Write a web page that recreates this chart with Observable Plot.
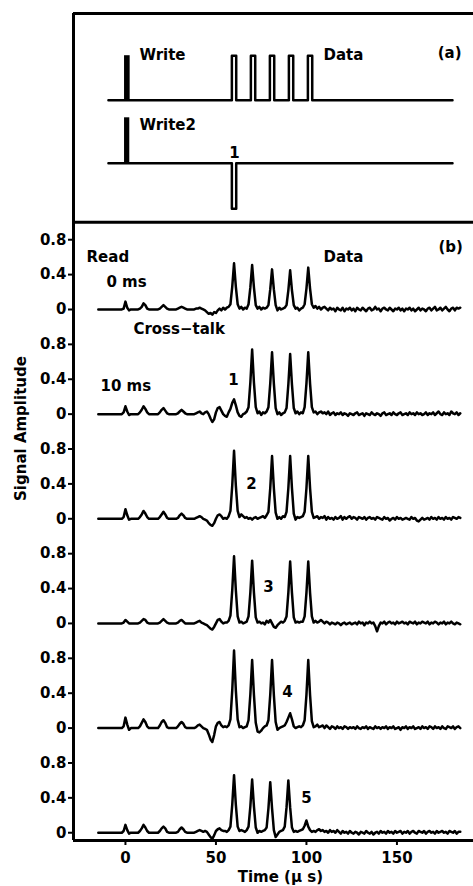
<!DOCTYPE html>
<html>
<head>
<meta charset="utf-8">
<script src="https://cdn.jsdelivr.net/npm/d3@7"></script>
<script src="https://cdn.jsdelivr.net/npm/@observablehq/plot@0.6"></script>
<style>
  html, body { margin: 0; padding: 0; background: #fff; }
  svg { display: block; }
  g[aria-label^="x-axis"] path, g[aria-label^="y-axis"] path,
  g[aria-label^="x-axis"] line, g[aria-label^="y-axis"] line { stroke-width: 2px; }
</style>
</head>
<body>
<div id="chart"></div>
<script>
// ---------------- data ----------------
// time grid (µs), 1 µs steps from -15 to 185
const tStart = -15, tEnd = 185;
const traceNames = ["0 ms", "10 ms", "2", "3", "4", "5"];
const traceOffset = 1.2;            // vertical stacking of the traces (signal units)

const trace0 = [
  0,0,0,0,0,0,0,0,0,0,
  0,0,0,0,0.01,0.09,0.02,-0.01,0,0,
  0,0,0,0.01,0.03,0.07,0.05,0.01,0,0,
  0,0,0,0,0.01,0.03,0.05,0.03,0.01,0,
  0,0,0,0,0.01,0.02,0.03,0.02,0.01,0,
  0,0,0,0,0.01,0.01,0.02,0.01,0,-0.01,
  -0.03,-0.05,-0.04,-0.06,-0.03,-0.04,-0.01,0.01,-0.01,0.02,
  0,0.02,0.03,0.06,0.26,0.53,0.26,0.06,0.01,0.03,
  0,0.02,0.01,0.06,0.25,0.51,0.25,0.05,0.01,0.03,
  0,0.02,0.01,0.02,0.05,0.23,0.46,0.23,0.05,-0.01,
  0.02,0,0.01,0.02,0.05,0.22,0.45,0.22,0.05,0.01,
  0.02,-0.01,0.01,0.02,0.06,0.24,0.48,0.24,0.06,0.02,
  0.04,0.01,0.03,0,0.02,0.03,0.01,-0.01,0.02,0,
  0.01,-0.02,0.02,0,-0.01,0.02,-0.02,0.01,0,0.02,
  -0.01,0.01,-0.02,0.02,0,-0.01,0.02,0,-0.02,0.01,
  0.02,-0.01,0,0.03,0,0.01,-0.02,0.01,0.02,0,
  -0.01,0.02,0,-0.02,0.01,0,0.02,-0.01,0.01,-0.02,
  0.01,0,0.02,-0.01,0.01,-0.02,0,0.02,-0.01,0.01,
  0,-0.02,0.01,0.02,-0.01,0.01,0.03,-0.01,0,0.02,
  -0.01,0.01,0.03,0,-0.02,0.01,0.02,-0.01,0.02,0.01,
  0.02
];
const trace1 = [
  0,0,0,0,0,0,0,0,0,0,
  0,0,0,0,0.02,0.09,0.03,-0.01,0,0,
  0,0,0,0.02,0.05,0.09,0.06,0.02,0,0,
  0,0,0,0,0.02,0.05,0.07,0.04,0.01,0,
  0,0,0,0,0.01,0.03,0.05,0.03,0.01,0,
  0,0,0,0,0.01,0.02,0.03,0.01,0,0.02,
  0.03,0,-0.05,-0.09,-0.06,0.02,0.07,0.08,0.04,0,
  -0.02,-0.03,0.02,0.06,0.13,0.17,0.1,0.02,-0.02,-0.03,
  0,0.01,0.03,0.08,0.36,0.74,0.36,0.08,0.01,0.03,
  -0.01,0.02,0.01,0.03,0.08,0.35,0.71,0.35,0.07,0,
  0.02,-0.01,0.01,0.02,0.07,0.34,0.69,0.34,0.07,0.01,
  0.03,0,0.02,0.01,0.08,0.35,0.71,0.35,0.08,0.02,
  0.03,0,0.02,0.03,0.01,0.02,0,0.03,-0.01,0.01,
  0.02,-0.01,0.01,0,0.02,-0.01,0.01,0,-0.02,0.01,
  0,-0.01,0.01,0.02,-0.01,0,0.01,-0.02,0.01,0,
  -0.01,0.02,0,-0.01,0.01,0,-0.02,0.01,0.02,-0.01,
  0,0.01,-0.01,0.02,0,-0.01,0.01,0.02,-0.01,0,
  0.01,-0.01,0.02,0,0.01,-0.01,0.02,0,0.01,-0.01,
  0,0.02,-0.01,0.01,0,0.02,-0.01,0.01,0.03,0,
  -0.01,0.02,0,0.01,-0.01,0.03,0.01,0,0.02,-0.01,
  0.01
];
const trace2 = [
  0,0,0,0,0,0,0,0,0,0,
  0,0,0,0,0.02,0.11,0.04,-0.01,0,0,
  0,0,0,0.02,0.05,0.09,0.06,0.02,0,0,
  0,0,0,0,0.02,0.05,0.08,0.05,0.01,0,
  0,0,0,0,0.01,0.04,0.06,0.04,0.01,0,
  0,0,0,0,0.01,0.02,0.03,0.02,0,-0.01,
  -0.02,-0.05,-0.07,-0.08,-0.05,0,0.04,0.05,0.03,0,
  0.01,0,0.03,0.09,0.38,0.78,0.38,0.09,0.02,0.05,
  0.03,0.01,0.02,0,0.01,-0.01,0.01,0.02,0,0.01,
  0.02,0.03,0.01,0.04,0.08,0.35,0.72,0.35,0.07,0,
  0.02,0,0.03,0.02,0.08,0.35,0.72,0.35,0.06,-0.01,
  0.02,0.01,0.02,0.03,0.08,0.35,0.72,0.35,0.08,0.01,
  0.02,0.03,0,0.02,0.01,0.03,-0.01,0.02,0,0.01,
  -0.01,0.02,0,0.01,0.03,-0.01,0.02,0,0.02,0.03,
  0,0.02,0.01,-0.01,0.02,0.01,0,0.02,-0.01,0.01,
  0.02,0,0.01,-0.01,0.02,0.01,0,-0.01,0.02,0,
  0.01,-0.02,0,0.01,-0.01,0.02,0,0.01,-0.01,0,
  0.01,0,-0.01,0.02,0,0.01,-0.02,-0.03,-0.01,0.01,
  -0.01,0,0.01,-0.01,0.02,0,0.01,-0.01,0.02,0,
  0.01,-0.01,0.02,0,0.01,-0.01,0.02,0.01,0,0.02,
  0.01
];
const trace3 = [
  0,0,0,0,0,0,0,0,0,0,
  0,0,0,0,0.01,0.04,0.02,0,0,0,
  0,0,0,0.01,0.03,0.05,0.04,0.01,0,0,
  0,0,0,0,0.01,0.03,0.05,0.03,0.01,0,
  0,0,0,0,0.01,0.03,0.04,0.02,0,0,
  0,0,0,0,0.01,0.02,0.03,0.01,0,-0.01,
  -0.02,-0.04,-0.06,-0.07,-0.04,0,0.04,0.05,0.02,0,
  0.01,0.01,0.03,0.09,0.38,0.77,0.38,0.08,0.01,0.02,
  0,0.01,0.02,0.08,0.35,0.72,0.35,0.07,0.01,0.02,
  0,0.01,-0.01,0.03,0.01,0.04,0,-0.04,-0.05,-0.02,
  0,0.02,0.01,0.03,0.08,0.35,0.71,0.35,0.07,0.01,
  0.02,0.01,0.02,0.02,0.08,0.35,0.71,0.35,0.08,0.01,
  0.03,0.01,0.02,0.04,0.02,0,0.02,0.01,-0.01,0.01,
  0,-0.01,0.01,0,-0.02,0,0.01,-0.01,0,0.01,
  -0.01,0,0.01,-0.01,0.02,0,0.01,-0.02,0.01,0,
  0.02,0,0.01,-0.03,-0.09,-0.03,0.01,0,0.02,-0.01,
  0.01,0.02,0,0.01,-0.01,0.02,0,0.01,0.02,0,
  0.01,-0.01,0.02,0.01,0,0.02,-0.01,0.01,0,0.02,
  0.01,0,0.02,-0.01,0.01,0,0.02,0.01,-0.01,0.01,
  0,0.02,-0.01,0.01,0,0.02,0,-0.01,0.01,0,
  -0.01
];
const trace4 = [
  0,0,0,0,0,0,0,0,0,0,
  0,0,0,0,0.02,0.12,0.04,-0.02,0,0,
  0,0,0,0.02,0.06,0.1,0.07,0.02,0,0,
  0,0,0,0,0.03,0.07,0.09,0.06,0.01,0,
  0,0,0,0,0.02,0.05,0.07,0.05,0.01,0,
  0,0,0,0,0.01,0.03,0.04,0.02,0,-0.01,
  -0.02,-0.07,-0.13,-0.16,-0.08,0.02,0.06,0.07,0.03,0.01,
  0.02,0.01,0.03,0.1,0.43,0.89,0.43,0.1,0.01,0.02,
  0,0.01,0.02,0.09,0.38,0.78,0.38,0.06,-0.04,-0.05,
  -0.03,0,0.02,0.03,0.09,0.38,0.78,0.38,0.07,-0.02,
  0,0.01,0.02,0.03,0.07,0.12,0.17,0.1,0.02,0,
  0.01,0.02,0.01,0.03,0.09,0.38,0.78,0.38,0.08,0.01,
  0.02,0.04,0.01,0.02,0.03,0,0.03,0.01,-0.01,0.02,
  0.01,-0.01,0.02,0,0.01,-0.01,0.02,0.01,-0.01,0.01,
  0,0.01,-0.01,0.02,0,-0.01,0.01,0,0.02,-0.01,
  0.01,0,-0.01,0.02,0,0.01,-0.01,0.01,0,0.02,
  -0.01,0.01,0,0.02,-0.01,0,0.01,-0.02,0.01,0,
  0.02,-0.01,0.01,0,0.02,-0.01,0,0.01,-0.01,0.02,
  0,0.01,-0.01,0.02,0.01,-0.01,0.02,0,0.01,-0.01,
  0.02,0,-0.01,0.02,0.01,0,0.02,-0.01,0.01,0.02,
  0
];
const trace5 = [
  0,0,0,0,0,0,0,0,0,0,
  0,0,0,0,0.02,0.09,0.03,-0.01,0,0,
  0,0,0,0.02,0.05,0.09,0.06,0.02,0,0,
  0,0,0,0,0.02,0.05,0.07,0.05,0.01,0,
  0,0,0,0,0.01,0.04,0.06,0.04,0.01,0,
  0,0,0,0,0.01,0.02,0.03,0.02,0.01,0.02,
  0.01,-0.02,-0.05,-0.07,-0.03,0.02,0.04,0.05,0.03,0.02,
  0.02,0.01,0.03,0.07,0.32,0.66,0.32,0.07,0.02,0.03,
  0.02,0.01,0.03,0.07,0.3,0.61,0.3,0.06,0,0.02,
  0.01,0.02,0.03,0.06,0.28,0.58,0.28,0.03,-0.05,-0.02,
  0.01,0.02,0.03,0.07,0.29,0.6,0.29,0.06,0.01,0.02,
  0.01,0.02,0.03,0.04,0.08,0.14,0.07,0.03,0.01,0.02,
  0.01,0.03,0.04,0.02,0.03,0.01,0.02,0,0.03,0.01,
  0.02,0,0.03,0.01,-0.01,0.02,0,0.01,-0.01,0.02,
  0,-0.01,0.01,0,-0.02,0.01,0,-0.01,0.02,0,
  -0.01,0.01,-0.02,0,0.01,-0.01,0.02,0,0.01,-0.01,
  0.02,0,0.01,-0.01,0.02,0,0.01,0.02,-0.01,0.01,
  0,0.02,-0.01,0.01,0.02,0,-0.01,0.02,0.01,0,
  0.02,-0.01,0.01,0.02,0,0.01,-0.01,0.02,0,0.01,
  0.02,0,0.01,-0.01,0.02,0.01,0,0.02,-0.01,0.01,
  0.01
];
const traces = [trace0, trace1, trace2, trace3, trace4, trace5];

// y-axis tick values / labels repeated for each trace
const yTickValues = [0, 0.4, 0.8];
const yTickLabels = ["0", "0.4", "0.8"];
const xTickValues = [0, 50, 100, 150];

// panel (a): pulse schematic
const writePulses   = [{t1: -0.5, t2: 2.6}];               // "Write" (filled)
const dataPulses    = [60, 70.5, 81, 91.5, 102];            // "Data" square pulses
const write2Pulses  = [{t1: -0.5, t2: 2.4}];               // "Write2" (filled)
const erasePulses   = [60];                                 // pulse "1" (negative)
const pulseWidth = 2.4;
const schemStart = -9.4, schemEnd = 180.7;
const line1Base = 2.40, line1Top = 2.91;
const line2Base = 1.678, line2Top = 2.198, line2Bottom = 1.155;

// text annotations (positions in data units)
const leftLabels = [
  {t: 7.7,   v: 2.92,  text: "Write"},
  {t: 109.4, v: 2.92,  text: "Data"},
  {t: 7.7,   v: 2.11,  text: "Write2"},
  {t: 172.5, v: 2.94,  text: "(a)"},
  {t: -21.5, v: 0.60,  text: "Read"},
  {t: -10.5, v: 0.31,  text: "0 ms"},
  {t: 4.4,   v: -0.23, text: "Cross\u2212talk"},
  {t: -13.8, v: -0.88, text: "10 ms"},
  {t: 109.4, v: 0.60,  text: "Data"},
  {t: 172.9, v: 0.71,  text: "(b)"}
];
const centerLabels = [
  {t: 60.2, v: 1.79,  text: "1"},
  {t: 59.7, v: -0.81, text: "1"},
  {t: 69.6, v: -2.0,  text: "2"},
  {t: 79.0, v: -3.19, text: "3"},
  {t: 89.5, v: -4.39, text: "4"},
  {t: 100,  v: -5.6,  text: "5"}
];
const xLabel = {t: 85.6, v: -6.51, text: "Time (\u03bc s)"};
const yLabel = {t: -57.5, v: -1.365, text: "Signal Amplitude"};

// ---------------- build ----------------
const xDomain = [-28.7, 192.3];
const yDomain = [-6.089, 3.394];
const panelSeparator = 1.0;

const traceData = [];
traces.forEach((arr, k) => {
  arr.forEach((val, i) => {
    traceData.push({t: tStart + i, v: val - k * traceOffset, trace: traceNames[k]});
  });
});

const yTicks = [];
const yTickMap = new Map();
traces.forEach((_, k) => {
  yTickValues.forEach((tv, j) => {
    const v = +(tv - k * traceOffset).toFixed(4);
    yTicks.push(v);
    yTickMap.set(v, yTickLabels[j]);
  });
});

// square-wave schematic lines
function squareLine(name, base, level, centers) {
  const pts = [{t: schemStart, v: base, line: name}];
  centers.forEach(c => {
    pts.push({t: c - pulseWidth / 2, v: base, line: name});
    pts.push({t: c - pulseWidth / 2, v: level, line: name});
    pts.push({t: c + pulseWidth / 2, v: level, line: name});
    pts.push({t: c + pulseWidth / 2, v: base, line: name});
  });
  pts.push({t: schemEnd, v: base, line: name});
  return pts;
}
const schem = [
  ...squareLine("line1", line1Base, line1Top, dataPulses),
  ...squareLine("line2", line2Base, line2Bottom, erasePulses)
];
const filledPulses = [
  ...writePulses.map(p => ({...p, b: line1Base, h: line1Top})),
  ...write2Pulses.map(p => ({...p, b: line2Base, h: line2Top}))
];

const font = "'DejaVu Sans', 'Liberation Sans', sans-serif";

const chart = Plot.plot({
  width: 473,
  height: 886,
  marginLeft: 73,
  marginRight: 0,
  marginTop: 13,
  marginBottom: 46,
  style: {fontFamily: font, fontSize: "15px", fontWeight: "bold", color: "black", background: "white", overflow: "visible"},
  x: {domain: xDomain, ticks: xTickValues, tickSize: 5, tickPadding: 7, tickFormat: d => String(d), label: null},
  y: {domain: yDomain, ticks: yTicks, tickSize: 5, tickPadding: 2, tickFormat: d => yTickMap.get(+d.toFixed(4)) ?? "", label: null},
  marks: [
    // frame / axes lines
    Plot.ruleX([xDomain[0]], {stroke: "black", strokeWidth: 3}),
    Plot.ruleY([yDomain[1]], {stroke: "black", strokeWidth: 3}),
    Plot.ruleY([panelSeparator], {stroke: "black", strokeWidth: 3}),
    Plot.ruleY([yDomain[0]], {stroke: "black", strokeWidth: 3}),
    // panel (a)
    Plot.line(schem, {x: "t", y: "v", z: "line", stroke: "black", strokeWidth: 2.5}),
    Plot.rect(filledPulses, {x1: "t1", x2: "t2", y1: "b", y2: "h", fill: "black"}),
    // panel (b) traces
    Plot.line(traceData, {x: "t", y: "v", z: "trace", stroke: "black", strokeWidth: 2.5, strokeLinejoin: "round"}),
    // labels
    Plot.text(leftLabels, {x: "t", y: "v", text: "text", textAnchor: "start", fill: "black"}),
    Plot.text(centerLabels, {x: "t", y: "v", text: "text", textAnchor: "middle", fill: "black"}),
    Plot.text([xLabel], {x: "t", y: "v", text: "text", textAnchor: "middle", fill: "black"}),
    Plot.text([yLabel], {x: "t", y: "v", text: "text", textAnchor: "middle", rotate: -90, fill: "black"})
  ]
});
document.getElementById("chart").appendChild(chart);
</script>
</body>
</html>
